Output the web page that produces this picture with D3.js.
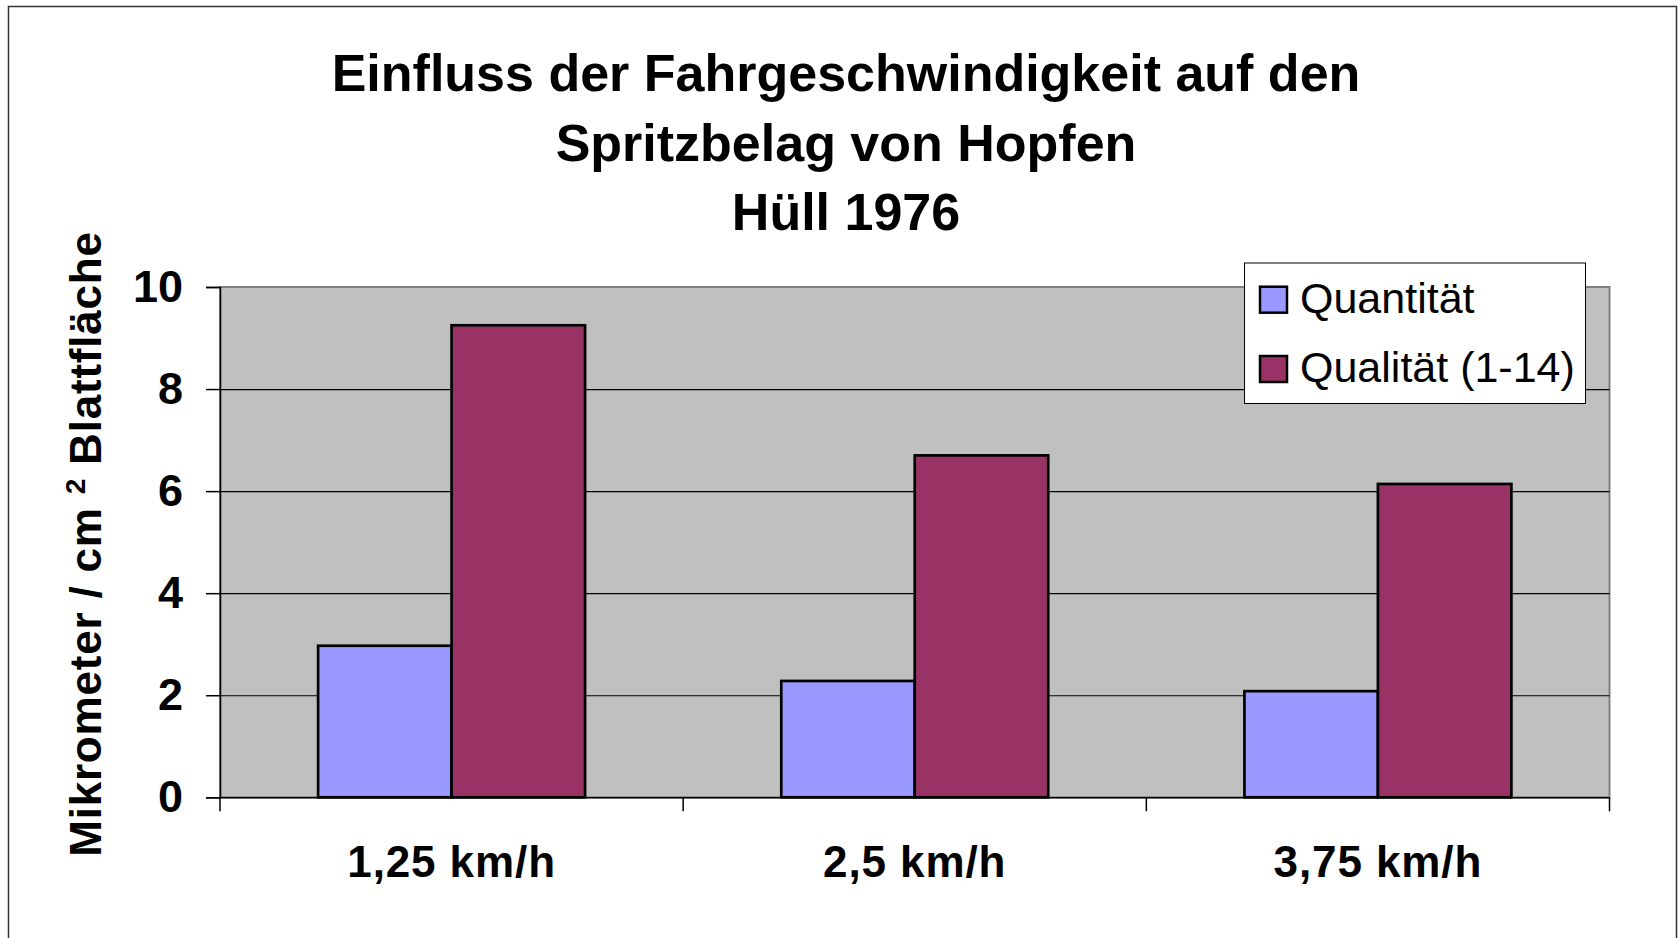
<!DOCTYPE html>
<html>
<head>
<meta charset="utf-8">
<script src="https://cdn.jsdelivr.net/npm/d3@7"></script>
<style>
  body { margin: 0; background: #fff; }
  svg { display: block; font-family: "Liberation Sans", Arial, sans-serif; }
</style>
</head>
<body>
<svg id="chart" width="1679" height="938"></svg>
<script>
const categories = ["1,25 km/h", "2,5 km/h", "3,75 km/h"];
const seriesNames = ["Quantität", "Qualität (1-14)"];
const quantitaet = [2.97, 2.28, 2.08];
const qualitaet = [9.25, 6.70, 6.14];
const yTicks = [0, 2, 4, 6, 8, 10];
const titleLines = ["Einfluss der Fahrgeschwindigkeit auf den", "Spritzbelag von Hopfen", "Hüll 1976"];
const colors = ["#9999FF", "#993366"];

const svg = d3.select("#chart");
const plot = { left: 220, top: 287, right: 1609.5, bottom: 797.3 };

// outer chart frame
svg.append("rect")
  .attr("x", 8.5).attr("y", 6.5)
  .attr("width", 1668).attr("height", 940)
  .attr("fill", "#fff").attr("stroke", "#333").attr("stroke-width", 1.5);

// title
svg.append("g").selectAll("text")
  .data(titleLines)
  .enter().append("text")
  .attr("x", 846)
  .attr("y", (_, i) => 91 + i * 69.5)
  .attr("text-anchor", "middle")
  .attr("font-size", 52)
  .attr("font-weight", "bold")
  .text(d => d);

const x = d3.scaleBand().domain(categories).range([plot.left, plot.right]);
const xInner = d3.scaleBand().domain(seriesNames).range([0, x.bandwidth()]).paddingOuter(0.735);
const y = d3.scaleLinear().domain([0, 10]).range([plot.bottom, plot.top]);

// plot area
svg.append("rect")
  .attr("x", plot.left).attr("y", plot.top)
  .attr("width", plot.right - plot.left).attr("height", plot.bottom - plot.top)
  .attr("fill", "#C0C0C0").attr("stroke", "#808080").attr("stroke-width", 2);

// gridlines
const grid = svg.append("g")
  .attr("transform", `translate(${plot.left},0)`)
  .call(d3.axisLeft(y).tickValues(yTicks.slice(1, -1)).tickSize(-(plot.right - plot.left)).tickFormat(""));
grid.select(".domain").remove();
grid.selectAll("line").attr("stroke", "#000").attr("stroke-width", 1.2);

// bars
const rows = categories.map((c, i) => ({ cat: c, values: [quantitaet[i], qualitaet[i]] }));
svg.append("g").selectAll("g")
  .data(rows)
  .enter().append("g")
  .attr("transform", d => `translate(${x(d.cat)},0)`)
  .selectAll("rect")
  .data(d => d.values.map((v, j) => ({ name: seriesNames[j], v, j })))
  .enter().append("rect")
  .attr("x", d => xInner(d.name))
  .attr("y", d => y(d.v))
  .attr("width", xInner.bandwidth())
  .attr("height", d => y(0) - y(d.v))
  .attr("fill", d => colors[d.j])
  .attr("stroke", "#000")
  .attr("stroke-width", 2.7);

// y axis
const yAxis = svg.append("g")
  .attr("transform", `translate(${plot.left},0)`)
  .call(d3.axisLeft(y).tickValues(yTicks).tickSize(14).tickPadding(23));
yAxis.select(".domain").attr("stroke", "#000").attr("stroke-width", 1.5);
yAxis.selectAll("line").attr("stroke", "#000").attr("stroke-width", 1.5);
yAxis.selectAll("text")
  .attr("font-size", 45)
  .attr("font-weight", "bold")
  .attr("font-family", "'Liberation Sans', Arial, sans-serif")
  .attr("fill", "#000");

// x axis: labels at centres, tick marks between categories
const xAxis = svg.append("g")
  .attr("transform", `translate(0,${plot.bottom})`)
  .call(d3.axisBottom(x).tickSize(0).tickPadding(48));
xAxis.select(".domain").attr("stroke", "#000").attr("stroke-width", 1.5);
xAxis.selectAll("text")
  .attr("font-size", 44)
  .attr("font-weight", "bold")
  .attr("font-family", "'Liberation Sans', Arial, sans-serif")
  .attr("fill", "#000")
  .style("letter-spacing", "0.9px");
const boundaries = categories.map(c => x(c)).concat([x(categories[categories.length - 1]) + x.bandwidth()]);
svg.append("g").selectAll("line")
  .data(boundaries)
  .enter().append("line")
  .attr("x1", d => d).attr("x2", d => d)
  .attr("y1", plot.bottom).attr("y2", plot.bottom + 14)
  .attr("stroke", "#000").attr("stroke-width", 1.5);

// y axis title
const yTitle = svg.append("text")
  .attr("transform", "translate(101,544) rotate(-90)")
  .attr("text-anchor", "middle")
  .attr("font-size", 44)
  .attr("font-weight", "bold")
  .style("letter-spacing", "0.8px");
yTitle.append("tspan").text("Mikrometer / cm ");
yTitle.append("tspan").attr("font-size", 28).attr("dy", -16).text("2");
yTitle.append("tspan").attr("dy", 16).text(" Blattfläche");

// legend
const legend = svg.append("g");
legend.append("rect")
  .attr("x", 1244.5).attr("y", 263)
  .attr("width", 341).attr("height", 140.5)
  .attr("fill", "#fff").attr("stroke", "#000").attr("stroke-width", 1);
const items = legend.selectAll("g.item")
  .data(seriesNames)
  .enter().append("g")
  .attr("class", "item")
  .attr("transform", (_, i) => `translate(1260,${286.7 + i * 69.3})`);
items.append("rect")
  .attr("width", 27).attr("height", 26)
  .attr("fill", (_, i) => colors[i])
  .attr("stroke", "#000").attr("stroke-width", 2.5);
items.append("text")
  .attr("x", 40).attr("y", 26)
  .attr("font-size", 43)
  .text(d => d);
</script>
</body>
</html>
